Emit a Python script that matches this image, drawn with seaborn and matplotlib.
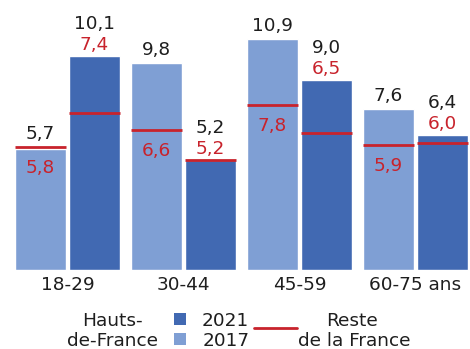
import matplotlib
matplotlib.use("Agg")
import matplotlib.pyplot as plt
import matplotlib.patches as mpatches
import matplotlib.lines as mlines
import seaborn as sns
import pandas as pd

# ---- data ----
ages = ["18-29", "30-44", "45-59", "60-75 ans"]
years = ["2017", "2021"]
hauts_2017 = [5.7, 9.8, 10.9, 7.6]
hauts_2021 = [10.1, 5.2, 9.0, 6.4]
reste_2017 = [5.8, 6.6, 7.8, 5.9]
reste_2021 = [7.4, 5.2, 6.5, 6.0]

C_LIGHT = "#7F9FD4"
C_DARK = "#4169B2"
C_RED = "#C8232C"
C_TXT = "#1e1e1e"
FS = 13.3

sns.set_theme(style="white")
plt.rcParams["font.family"] = ["DejaVu Sans"]

df = pd.DataFrame({
    "age": ages * 2,
    "year": [years[0]] * 4 + [years[1]] * 4,
    "value": hauts_2017 + hauts_2021,
})

W, H = 470, 349
fig = plt.figure(figsize=(W / 100, H / 100), dpi=100)
ax = fig.add_axes([9.5 / W, 79 / H, (W - 9.5) / W, 270 / H])

sns.barplot(data=df, x="age", y="value", hue="year", hue_order=years,
            order=ages, palette=[C_LIGHT, C_DARK], width=0.93, gap=0.06,
            errorbar=None, saturation=1, legend=False, ax=ax)

ax.set_xlim(-0.5, -0.5 + (W - 9.5) / 116)
ax.set_ylim(0, 270 / 21.15)
sns.despine(ax=ax, left=True, bottom=True)
ax.set_yticks([])
ax.set_xlabel("")
ax.set_ylabel("")
ax.tick_params(axis="x", length=0, pad=4, labelsize=FS, labelcolor=C_TXT)

fmt = lambda v: f"{v:.1f}".replace(".", ",")
PX = 72 / 100  # points per pixel

reste = [reste_2017, reste_2021]
hauts = [hauts_2017, hauts_2021]
for k, cont in enumerate(ax.containers[:2]):
    for i, bar in enumerate(cont):
        x0 = bar.get_x()
        w = bar.get_width()
        xc = x0 + w / 2
        hv = hauts[k][i]
        rv = reste[k][i]
        ax.hlines(rv, x0, x0 + w, colors=C_RED, lw=2.0, zorder=5)
        if k == 0:
            top = max(hv, rv)
            ax.annotate(fmt(hv), (xc, top), xytext=(0, 8 * PX), textcoords="offset points",
                        ha="center", va="baseline", fontsize=FS, color=C_TXT)
            ax.annotate(fmt(rv), (xc, rv), xytext=(0, -26 * PX), textcoords="offset points",
                        ha="center", va="baseline", fontsize=FS, color=C_RED)
        else:
            ax.annotate(fmt(hv), (xc, hv), xytext=(0, 27 * PX), textcoords="offset points",
                        ha="center", va="baseline", fontsize=FS, color=C_TXT,
                        annotation_clip=False)
            ax.annotate(fmt(rv), (xc, hv), xytext=(0, 6 * PX), textcoords="offset points",
                        ha="center", va="baseline", fontsize=FS, color=C_RED,
                        annotation_clip=False)

# ---- legend (manual, figure pixel coords) ----
def fx(x):
    return x / W

def fy(y):
    return (H - y) / H

fig.text(fx(112), fy(326.5), "Hauts-", ha="center", va="baseline", fontsize=FS, color=C_TXT)
fig.text(fx(112.5), fy(346.5), "de-France", ha="center", va="baseline", fontsize=FS, color=C_TXT)
fig.add_artist(mpatches.Rectangle((fx(174), fy(325)), 12 / W, 12 / H,
                                  transform=fig.transFigure, color=C_DARK, lw=0))
fig.add_artist(mpatches.Rectangle((fx(174), fy(345)), 12 / W, 12 / H,
                                  transform=fig.transFigure, color=C_LIGHT, lw=0))
fig.text(fx(202), fy(325.5), years[1], ha="left", va="baseline", fontsize=FS, color=C_TXT)
fig.text(fx(203), fy(345.5), years[0], ha="left", va="baseline", fontsize=FS, color=C_TXT)
fig.add_artist(mlines.Line2D([fx(254), fx(297)], [fy(328), fy(328)],
                             transform=fig.transFigure, color=C_RED, lw=2.0))
fig.text(fx(352), fy(325.5), "Reste", ha="center", va="baseline", fontsize=FS, color=C_TXT)
fig.text(fx(354), fy(346), "de la France", ha="center", va="baseline", fontsize=FS, color=C_TXT)

fig.savefig("out.png", dpi=100)
